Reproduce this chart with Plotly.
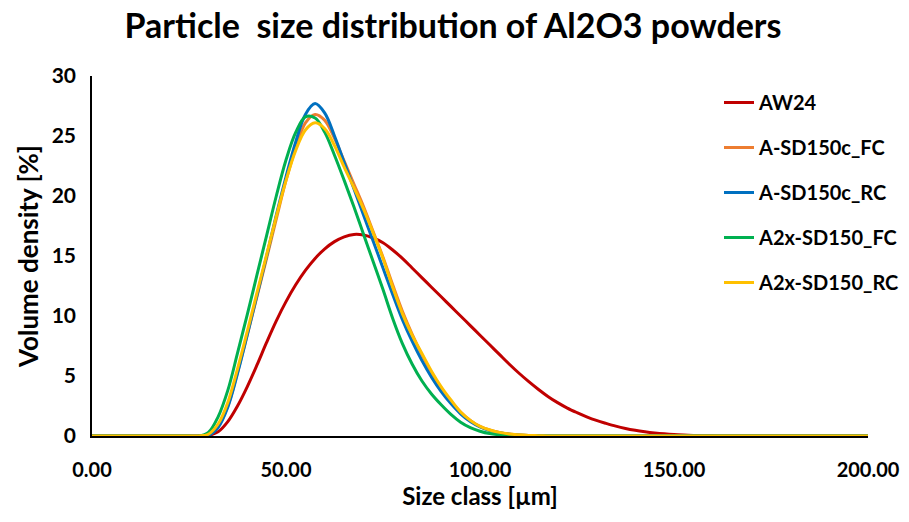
import plotly.graph_objects as go

# Size classes [µm]
size_class = [0, 5, 10, 15, 20, 22.5,
              25, 27.5, 30, 32.5, 35, 37.5, 40, 42.5, 45, 47.5,
              50, 52.5, 55, 57.5, 60, 62.5, 65, 67.5, 70, 72.5,
              75, 77.5, 80, 82.5, 85, 87.5, 90, 92.5, 95, 97.5,
              100, 102.5, 105, 107.5, 110, 112.5, 115, 117.5, 120, 122.5,
              125, 127.5, 130, 132.5, 135, 137.5, 140, 142.5, 145, 147.5,
              150, 152.5, 155, 157.5, 160, 162.5, 165,
              170, 175, 180, 185, 190, 195, 200]

# Volume density [%]
aw24 = [0, 0, 0, 0, 0, 0,
        0, 0, 0.05, 0.35, 1.2, 2.5, 4.1, 5.9, 7.8, 9.6,
        11.2, 12.6, 13.8, 14.8, 15.6, 16.2, 16.6, 16.8, 16.75, 16.5,
        16.1, 15.5, 14.8, 14.0, 13.2, 12.4, 11.6, 10.8, 10.0, 9.2,
        8.4, 7.6, 6.8, 6.0, 5.25, 4.55, 3.9, 3.3, 2.78, 2.33,
        1.95, 1.6, 1.3, 1.05, 0.82, 0.63, 0.48, 0.36, 0.26, 0.18,
        0.12, 0.08, 0.05, 0.03, 0.015, 0.005, 0,
        0, 0, 0, 0, 0, 0, 0]

a_sd150c_fc = [0, 0, 0, 0, 0, 0,
               0, 0, 0.08, 0.8, 2.5, 5.3, 8.4, 11.6, 14.8, 18.1,
               21.3, 24.0, 26.1, 26.8, 26.3, 24.8, 22.9, 21.0, 19.1, 17.0,
               14.9, 12.6, 10.4, 8.5, 6.8, 5.3, 4.0, 2.9, 2.0, 1.3,
               0.8, 0.5, 0.3, 0.16, 0.08, 0.04, 0.02, 0.01, 0, 0,
               0, 0, 0, 0, 0, 0, 0, 0, 0, 0,
               0, 0, 0, 0, 0, 0, 0,
               0, 0, 0, 0, 0, 0, 0]

a_sd150c_rc = [0, 0, 0, 0, 0, 0,
               0, 0, 0.05, 0.7, 2.4, 5.2, 8.4, 11.7, 15.0, 18.4,
               21.6, 24.5, 26.8, 27.7, 26.9, 25.0, 22.8, 20.6, 18.4, 16.2,
               14.0, 11.8, 9.7, 7.9, 6.3, 4.9, 3.7, 2.7, 1.85, 1.2,
               0.75, 0.45, 0.27, 0.15, 0.08, 0.04, 0.02, 0.01, 0, 0,
               0, 0, 0, 0, 0, 0, 0, 0, 0, 0,
               0, 0, 0, 0, 0, 0, 0,
               0, 0, 0, 0, 0, 0, 0]

a2x_sd150_fc = [0, 0, 0, 0, 0, 0,
                0, 0, 0.3, 1.6, 3.8, 6.9, 10.1, 13.4, 16.7, 20.0,
                23.0, 25.3, 26.6, 26.5, 25.3, 23.4, 21.3, 19.1, 16.8, 14.5,
                12.2, 9.8, 7.7, 6.0, 4.6, 3.5, 2.6, 1.8, 1.15, 0.7,
                0.4, 0.2, 0.1, 0.04, 0.01, 0, 0, 0, 0, 0,
                0, 0, 0, 0, 0, 0, 0, 0, 0, 0,
                0, 0, 0, 0, 0, 0, 0,
                0, 0, 0, 0, 0, 0, 0]

a2x_sd150_rc = [0, 0, 0, 0, 0, 0,
                0, 0, 0.15, 1.0, 2.8, 5.6, 8.7, 11.9, 15.1, 18.3,
                21.3, 23.8, 25.5, 26.1, 25.6, 24.2, 22.4, 20.7, 18.9, 16.9,
                14.8, 12.4, 10.2, 8.4, 6.9, 5.4, 4.1, 3.0, 2.0, 1.3,
                0.8, 0.5, 0.3, 0.17, 0.1, 0.05, 0.03, 0.01, 0, 0,
                0, 0, 0, 0, 0, 0, 0, 0, 0, 0,
                0, 0, 0, 0, 0, 0, 0,
                0, 0, 0, 0, 0, 0, 0]

series_names = ["AW24", "A-SD150c_FC", "A-SD150c_RC", "A2x-SD150_FC", "A2x-SD150_RC"]
series_values = [aw24, a_sd150c_fc, a_sd150c_rc, a2x_sd150_fc, a2x_sd150_rc]
colors = ["#C00000", "#ED7D31", "#0070C0", "#00B050", "#FFC000"]

x_ticks = [0, 50, 100, 150, 200]
y_ticks = [0, 5, 10, 15, 20, 25, 30]

FONT = "Lato"

fig = go.Figure()
for i, (name, vals, col) in enumerate(zip(series_names, series_values, colors)):
    fig.add_trace(go.Scatter(
        x=size_class, y=vals, name=name, mode="lines",
        line=dict(color=col, width=3, shape="spline", smoothing=1.0),
        legendgroup=f"g{i}",
    ))

# the page body adds an 8px offset; size the figure so it fits the visible view
W, H = 893, 506
fig.update_layout(
    width=W, height=H,
    margin=dict(l=84, r=33, t=68, b=78, autoexpand=False),
    paper_bgcolor="white", plot_bgcolor="white",
    font=dict(family=FONT, color="black"),
    title=dict(
        text="<b>Particle  size distribution of Al2O3 powders</b>",
        x=(453 - 8) / W, xanchor="center", y=1 - 18 / H, yanchor="middle",
        yref="container", font=dict(size=34, family=FONT, color="black"),
    ),
    legend=dict(
        xref="container", yref="container",
        x=711 / W, xanchor="left", y=1 - 75 / H, yanchor="top",
        bgcolor="rgba(0,0,0,0)", font=dict(size=20, family=FONT, color="black", weight="bold"),
        tracegroupgap=16, traceorder="grouped", itemwidth=30,
    ),
    xaxis=dict(
        range=[0, 200], tickvals=x_ticks, tickformat=".2f", automargin=False,
        showgrid=False, zeroline=False, showline=True, linecolor="black", linewidth=1.5,
        ticks="", ticklabelstandoff=15,
        tickfont=dict(size=20, family=FONT, color="black", weight="bold"),
        title=dict(text="<b>Size class [µm]</b>", standoff=5,
                   font=dict(size=24, family=FONT, color="black")),
    ),
    yaxis=dict(
        range=[0, 30], tickvals=y_ticks, automargin=False,
        showgrid=False, zeroline=False, showline=True, linecolor="black", linewidth=1.5,
        ticks="", ticklabelstandoff=10,
        tickfont=dict(size=21, family=FONT, color="black", weight="bold"),
        title=dict(text="<b>Volume density [%]</b>", standoff=6,
                   font=dict(size=26, family=FONT, color="black")),
    ),
)

fig.write_html("out.html")
